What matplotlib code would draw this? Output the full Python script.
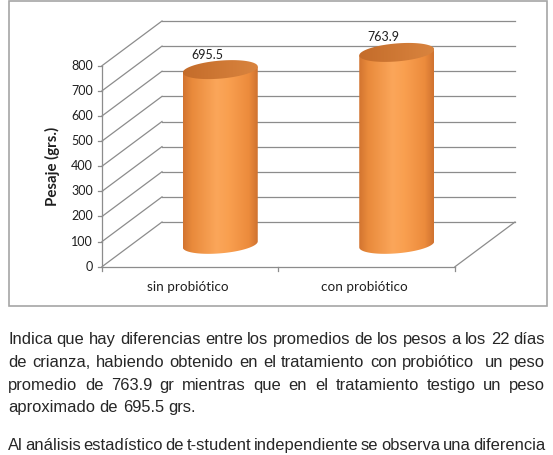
import matplotlib
matplotlib.use('Agg')

import math
import re
import matplotlib.pyplot as plt
import numpy as np
from matplotlib.colors import LinearSegmentedColormap
from matplotlib.font_manager import FontProperties
from matplotlib.patches import Polygon, Rectangle

# datos del grafico
categorias = ['sin probiótico', 'con probiótico']
pesos = [695.5, 763.9]
ticks_y = [0, 100, 200, 300, 400, 500, 600, 700, 800]
etiqueta_y = 'Pesaje (grs.)'

parrafo1 = [
    'Indica que hay diferencias entre los promedios de los pesos a los 22 días',
    'de crianza, habiendo obtenido en el tratamiento con probiótico  un peso',
    'promedio de 763.9 gr mientras que en el tratamiento testigo un peso',
    'aproximado de 695.5 grs.',
]
parrafo2 = ['Al análisis estadístico de t-student independiente se observa una diferencia']

W, H = 553, 455
fig = plt.figure(figsize=(W / 100, H / 100), dpi=100)

# ejes en unidades de datos: x = categoria, y = valor (0 en y=266.7px, 800 en 65.7px)
px_x = 176.5          # px por categoria
px_v = 201.0 / 800    # px por unidad de valor
x0_px, v0_px = 102.0, 266.7
ax = fig.add_axes([0, 0, 1, 1])
ax.axis('off')

DX = 60.0 / px_x      # profundidad 3d
DY = 44.7 / px_v
gris = '#8c8c8c'
txt_col = '#1f1f1f'
n = len(categorias)

# marco del grafico
fig.patches.append(Rectangle((8.5 / W, 1 - 306 / H), 538 / W, 305.5 / H,
                             transform=fig.transFigure, fill=False,
                             edgecolor='#a6a6a6', lw=1.2))

# pared del fondo y pared izquierda
for v in ticks_y:
    ax.plot([DX, n + DX], [v + DY, v + DY], color=gris, lw=0.9, zorder=1)
    ax.plot([0, DX], [v, v + DY], color=gris, lw=0.9, zorder=1)
    ax.plot([-4 / px_x, 0], [v, v], color=gris, lw=0.9, zorder=1)
    ax.text(-9 / px_x, v, str(v), ha='right', va='center', fontsize=9,
            family='Lato', color=txt_col)
ax.plot([0, 0], [0, ticks_y[-1]], color=gris, lw=0.9, zorder=1)
# piso
ax.plot([0, n], [0, 0], color=gris, lw=0.9, zorder=1)
ax.plot([n, n + DX], [0, DY], color=gris, lw=0.9, zorder=1)
for k in range(n + 1):
    ax.plot([k, k], [0, -4 / px_v], color=gris, lw=0.9, zorder=1)

for i, c in enumerate(categorias):
    ax.text(i + 0.5 - 2 / px_x, -20.5 / px_v, c, ha='center', va='center',
            fontsize=9.7, family='Lato', color=txt_col)

ax.text(-50 / px_x, 400, etiqueta_y, rotation=90, ha='center', va='center',
        fontsize=10.8, family='Lato', fontweight='bold', color=txt_col)

# cilindros
cmap = LinearSegmentedColormap.from_list('cil', [
    (0.0, '#d27430'), (0.12, '#e98a3b'), (0.45, '#fba65a'),
    (0.62, '#f99f4f'), (0.88, '#ec8b3c'), (1.0, '#cf7230')])
cmap_top = LinearSegmentedColormap.from_list('tapa', ['#c46c2a', '#d9843f'])
a = 37.5 / px_x
b = 9.0 / px_v
sh = 3.0 / px_v
t = np.linspace(0, 2 * np.pi, 200)
grad = np.linspace(0, 1, 256).reshape(1, -1)

for i, val in enumerate(pesos):
    cx = i + 0.5 + DX / 2
    yb = DY / 2
    yt = val + DY / 2
    tb = np.linspace(np.pi, 2 * np.pi, 100)
    bx = cx + a * np.cos(tb)
    by = yb + b * np.sin(tb) + sh * np.cos(tb)
    body = np.vstack([np.column_stack([bx, by]),
                      [[cx + a, yt + sh], [cx - a, yt - sh]]])
    poly = Polygon(body, closed=True, facecolor='none', edgecolor='none')
    ax.add_patch(poly)
    im = ax.imshow(grad, cmap=cmap, aspect='auto', zorder=2,
                   extent=[cx - a, cx + a, yb - b - sh, yt + sh],
                   interpolation='bilinear')
    im.set_clip_path(poly)
    # tapa superior
    tx = cx + a * np.cos(t)
    ty = yt + b * np.sin(t) + sh * np.cos(t)
    tapa = Polygon(np.column_stack([tx, ty]), closed=True, facecolor='none',
                   edgecolor='none')
    ax.add_patch(tapa)
    im2 = ax.imshow(grad, cmap=cmap_top, aspect='auto', zorder=3,
                    extent=[cx - a, cx + a, yt - b - sh, yt + b + sh],
                    interpolation='bilinear')
    im2.set_clip_path(tapa)
    ax.text(cx - 13 / px_x, yt + b + 6 / px_v, f'{val:.1f}', ha='center',
            va='center', fontsize=9, family='Lato', color=txt_col, zorder=4)

ax.set_xlim(-x0_px / px_x, (W - x0_px) / px_x)
ax.set_ylim(-(H - v0_px) / px_v, v0_px / px_v)

# texto inferior justificado, palabra por palabra
renderer = fig.canvas.get_renderer()
familia = ['Liberation Sans', 'DejaVu Sans']
tam = 11.9
fuente = dict(fontsize=tam, family=familia, color='#262626')
prop = FontProperties(family=familia, size=tam)


def ancho(s):
    tmp = fig.text(0, 0, s, **fuente)
    w = tmp.get_window_extent(renderer).width
    tmp.remove()
    return w


def base_y(p, fila):
    # compensa el redondeo del mapa de bits para que todas las palabras
    # queden sobre la misma linea base
    _, h, d = renderer.get_text_width_height_descent(p, prop, False)
    return fila + math.floor(h) - math.floor(h - d) - d


def linea(texto, y, justificar=True, xi=8.0, xf=545.0):
    partes = re.split(r'( +)', texto)
    palabras = partes[0::2]
    nesp = [0] + [len(s) for s in partes[1::2]]
    extra = 0.0
    if justificar:
        extra = (xf - xi - ancho(texto)) / sum(nesp)
    fila = round(y)
    pref = ''
    acum = 0
    for k, p in enumerate(palabras):
        if k:
            pref += partes[2 * k - 1]
        pref += p
        acum += nesp[k]
        x = xi + ancho(pref) - ancho(p) + extra * acum
        yy = base_y(p, fila)
        fig.text(x / W, (H - yy) / H, p, va='baseline', ha='left', **fuente)


ys1 = [344.3, 366.9, 389.6, 412.3]
for k, (txt, y) in enumerate(zip(parrafo1, ys1)):
    linea(txt, y, justificar=k < len(parrafo1) - 1)
linea(parrafo2[0], 449.5)

fig.savefig('out.png', dpi=100)
